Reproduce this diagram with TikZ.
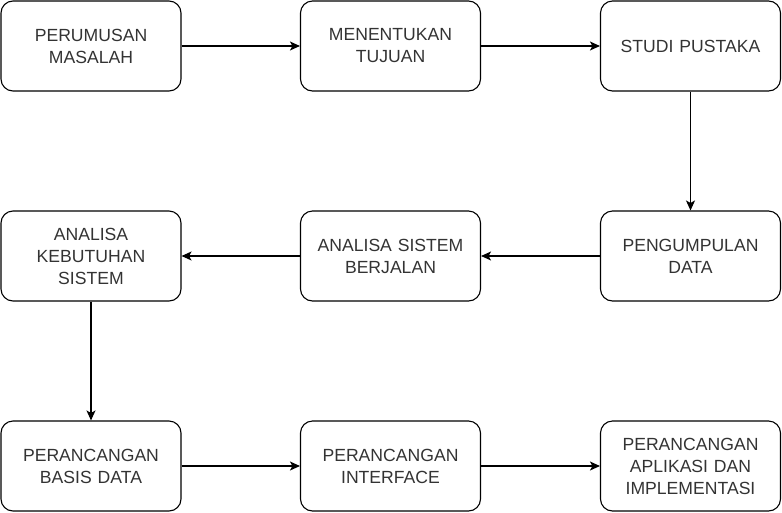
\documentclass[tikz,border=0pt]{standalone}
\usepackage{fontspec}
\setmainfont{Liberation Sans}
\usetikzlibrary{arrows.meta}
\definecolor{txt}{HTML}{333333}
\begin{document}
\begin{tikzpicture}[x=1pt,y=-1pt,
  box/.style={draw=black,line width=1.1pt,rounded corners=12pt,minimum width=180pt,minimum height=90pt,
    inner sep=0pt,align=center,text=txt,font=\fontsize{17.6}{22}\selectfont,text width=170pt},
  conn/.style={draw=black,line width=1.1pt,-{Stealth[length=10pt,width=9pt,inset=2.5pt]}}]
\useasboundingbox (0,0) rectangle (782,512);
\node[box] (b1) at (91,46) {PERUMUSAN\\MASALAH};
\node[box] (b2) at (390.5,46) {MENENTUKAN\\TUJUAN};
\node[box] (b3) at (690.5,46) {STUDI PUSTAKA};
\node[box] (b4) at (690.5,256) {PENGUMPULAN\\DATA};
\node[box] (b5) at (390.5,256) {ANALISA SISTEM\\BERJALAN};
\node[box] (b6) at (91,256) {ANALISA\\KEBUTUHAN\\SISTEM};
\node[box] (b7) at (91,466) {PERANCANGAN\\BASIS DATA};
\node[box] (b8) at (390.5,466) {PERANCANGAN\\INTERFACE};
\node[box] (b9) at (690.5,466) {PERANCANGAN\\APLIKASI DAN\\IMPLEMENTASI};
\draw[conn] (b1) -- (b2);
\draw[conn] (b2) -- (b3);
\draw[conn] (b3) -- (b4);
\draw[conn] (b4) -- (b5);
\draw[conn] (b5) -- (b6);
\draw[conn] (b6) -- (b7);
\draw[conn] (b7) -- (b8);
\draw[conn] (b8) -- (b9);
\end{tikzpicture}
\end{document}
